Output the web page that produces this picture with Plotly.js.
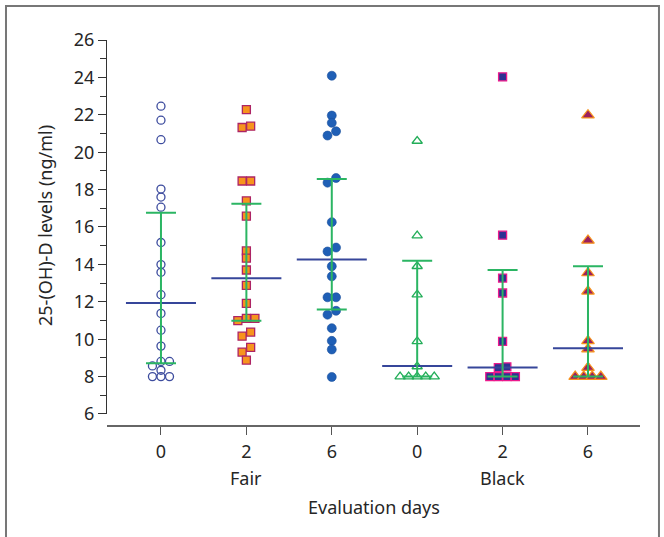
<!DOCTYPE html>
<html>
<head>
<meta charset="utf-8">
<script src="https://cdn.plot.ly/plotly-3.0.1.min.js"></script>
<style>
  html, body { margin: 0; padding: 0; background: #fff; }
  #chart { width: 664px; height: 537px; }
</style>
</head>
<body>
<div id="chart"></div>
<script>
// ---- data ----
const dayLabels = ['0', '2', '6', '0', '2', '6'];
const skinGroups = ['Fair', 'Black'];

const fair0  = [22.46, 21.71, 20.67, 18.03, 17.60, 17.06, 15.17, 13.99, 13.58, 12.38, 11.38, 10.48, 9.63, 8.81, 8.81, 8.57, 8.34, 8.00, 8.00, 8.00];
const fair2  = [22.28, 21.39, 21.32, 18.46, 18.46, 17.40, 16.58, 14.72, 14.33, 13.70, 12.88, 11.92, 11.11, 11.11, 10.99, 10.38, 10.16, 9.56, 9.31, 8.88];
const fair6  = [24.09, 21.96, 21.57, 21.12, 20.89, 18.62, 18.37, 16.26, 14.90, 14.69, 13.90, 13.36, 12.24, 12.24, 11.52, 11.31, 10.59, 9.91, 9.45, 7.98];
const black0 = [20.60, 15.54, 13.90, 12.38, 9.88, 8.54, 8.00, 8.00, 8.00, 8.00, 8.00];
const black2 = [24.03, 15.56, 13.27, 12.47, 9.88, 8.52, 8.48, 8.00, 8.00, 8.00, 8.00];
const black6 = [21.98, 15.28, 13.54, 12.56, 9.91, 9.47, 8.48, 8.00, 8.00, 8.00, 8.00];

const medians = [11.94, 13.26, 14.26, 8.57, 8.48, 9.52];
const q1      = [8.72, 10.99, 11.59, 8.00, 8.00, 8.00];
const q3      = [16.76, 17.24, 18.57, 14.20, 13.70, 13.90];

// ---- horizontal dodge slots (layout only, not data) ----
const fair0Slot  = [0,0,0,0,0,0,0,0,0,0,0,0,0,0,1,-1,0,-1,0,1];
const fair2Slot  = [0,0.5,-0.5,-0.5,0.5,0,0,0,0,0,0,0,0,1,-1,0.5,-0.5,0.5,-0.5,0];
const fair6Slot  = [0,0,0,0.5,-0.5,0.5,-0.5,0,0.5,-0.5,0,0,-0.5,0.5,0.5,-0.5,0,0,0,0];
const black0Slot = [0,0,0,0,0,0,-2,-1,0,1,2];
const black2Slot = [0,0,0,0,0,0.5,-0.5,-1.5,-0.5,0.5,1.5];
const black6Slot = [0,0,0,0,0,0,0,-1.5,-0.5,0.5,1.5];

// ---- styles ----
const SLOT = 0.1;       // category units per dodge slot
const MED_HALF = 0.41;  // half-width of median line (category units)
const groups = [
  {v: fair0,  s: fair0Slot,  m: {symbol: 'circle-open', size: 8, color: '#3d4c9e', line: {width: 1.3, color: '#3d4c9e'}}},
  {v: fair2,  s: fair2Slot,  m: {symbol: 'square', size: 8, color: '#f7941d', line: {width: 1.3, color: '#ad2465'}}},
  {v: fair6,  s: fair6Slot,  m: {symbol: 'circle', size: 9, color: '#1f5fb6', line: {width: 0.6, color: '#1a4f9c'}}},
  {v: black0, s: black0Slot, m: {symbol: 'triangle-up-open', size: 9, color: '#22ad58', line: {width: 1.3, color: '#22ad58'}}},
  {v: black2, s: black2Slot, m: {symbol: 'square', size: 8, color: '#2e3192', line: {width: 1.3, color: '#ec1a8c'}}},
  {v: black6, s: black6Slot, m: {symbol: 'triangle-up', size: 11, color: '#9b1f5f', line: {width: 1.2, color: '#f7941d'}}}
];

const traces = [];
groups.forEach((g, i) => {
  traces.push({
    type: 'scatter', mode: 'markers',
    x: g.v.map((_, k) => i + g.s[k] * SLOT),
    y: g.v,
    marker: g.m,
    hoverinfo: 'y', showlegend: false, cliponaxis: false
  });
});

// median lines
const mx = [], my = [];
medians.forEach((m, i) => { mx.push(i - MED_HALF, i + MED_HALF, null); my.push(m, m, null); });
traces.push({type: 'scatter', mode: 'lines', x: mx, y: my,
  line: {color: '#36469a', width: 2}, hoverinfo: 'skip', showlegend: false});

// interquartile range bars
traces.push({
  type: 'scatter', mode: 'markers',
  x: medians.map((_, i) => i), y: medians,
  marker: {size: 1, opacity: 0},
  error_y: {type: 'data', symmetric: false,
    array: q3.map((v, i) => v - medians[i]),
    arrayminus: medians.map((v, i) => v - q1[i]),
    color: '#2bb563', thickness: 2, width: 15},
  hoverinfo: 'skip', showlegend: false
});

const font = {family: 'Noto Sans, Open Sans, sans-serif', size: 18, color: '#262626'};

const annotations = [];
skinGroups.forEach((name, j) => {
  annotations.push({text: name, xref: 'x', yref: 'paper', x: j * 3 + 1, y: -0.1377,
    xanchor: 'center', yanchor: 'middle', showarrow: false, font: font});
});
annotations.push({text: 'Evaluation days', xref: 'paper', yref: 'paper', x: 0.5, y: -0.213,
  xanchor: 'center', yanchor: 'middle', showarrow: false, font: font});
annotations.push({text: '25-(OH)-D levels (ng/ml)', xref: 'paper', yref: 'paper', x: -0.1163, y: 0.517,
  xanchor: 'center', yanchor: 'middle', textangle: -90, showarrow: false, font: font});

const layout = {
  width: 664, height: 537,
  margin: {l: 107, r: 24, t: 40, b: 112, pad: 0},
  paper_bgcolor: '#fff', plot_bgcolor: '#fff',
  font: font,
  showlegend: false,
  xaxis: {
    range: [-0.632, 5.609], anchor: 'free', position: 0,
    tickvals: dayLabels.map((_, i) => i), ticktext: dayLabels,
    ticks: 'outside', ticklen: 8, tickwidth: 1, tickcolor: '#555',
    ticklabelstandoff: 2,
    showline: true, linecolor: '#666', linewidth: 1.5,
    showgrid: false, zeroline: false, tickfont: font
  },
  yaxis: {
    range: [6, 26], domain: [0.0286, 1],
    tickvals: [6, 8, 10, 12, 14, 16, 18, 20, 22, 24, 26],
    ticks: 'outside', ticklen: 8, tickwidth: 1, tickcolor: '#333',
    minor: {tickvals: [7, 9, 11, 13, 15, 17, 19, 21, 23, 25], ticks: 'outside', ticklen: 6, tickwidth: 1, tickcolor: '#333', showgrid: false},
    showline: true, linecolor: '#333', linewidth: 1,
    showgrid: false, zeroline: false, tickfont: font
  },
  annotations: annotations,
  shapes: [{type: 'rect', xref: 'paper', yref: 'paper',
    x0: -0.1895, x1: 1.0356, y0: -0.33, y1: 1.0883,
    line: {color: '#777', width: 2}, fillcolor: 'rgba(0,0,0,0)', layer: 'below'}]
};

Plotly.newPlot('chart', traces, layout, {staticPlot: true, displayModeBar: false});
</script>
</body>
</html>
